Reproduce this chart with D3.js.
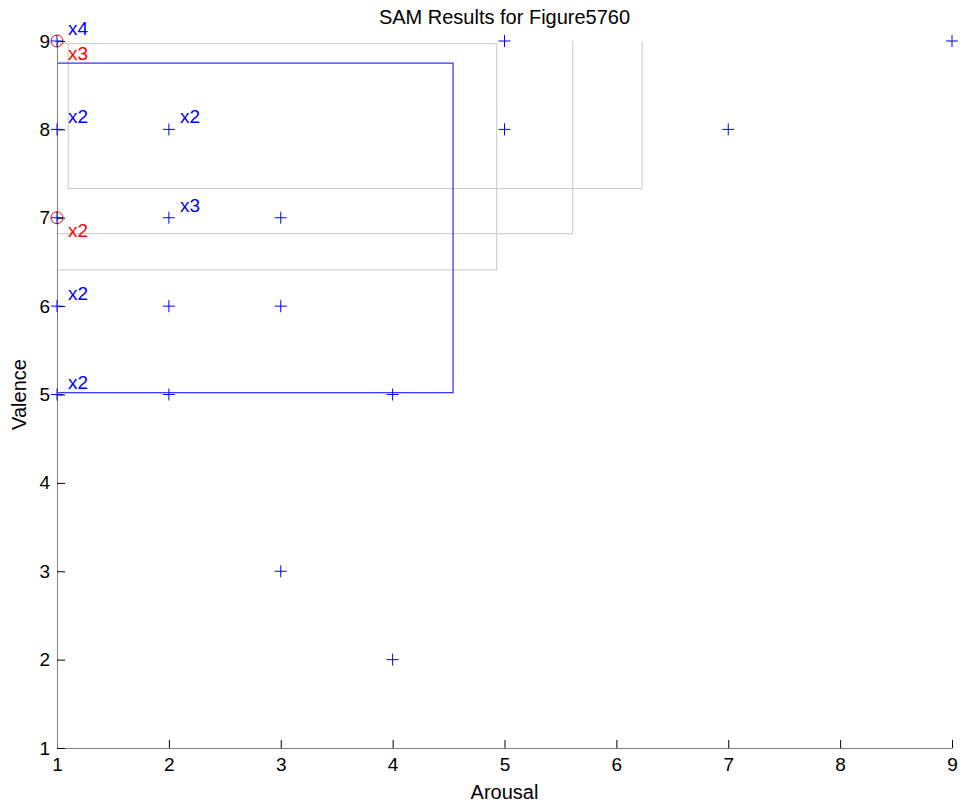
<!DOCTYPE html>
<html><head><meta charset="utf-8">
<script src="https://cdn.jsdelivr.net/npm/d3@7"></script>
<style>body{margin:0;background:#fff}svg{display:block}text{font-family:"Liberation Sans",Arial,sans-serif}</style>
</head><body>
<script>
// data
const xTicks = [1,2,3,4,5,6,7,8,9];
const yTicks = [1,2,3,4,5,6,7,8,9];
const blueX = [1,1,2,1,2,3,1,2,3,1,2,4,3,4,5,5,7,9];
const blueY = [9,8,8,7,7,7,6,6,6,5,5,5,3,2,9,8,8,9];
const blueCount = [4,2,2,1,3,1,2,1,1,2,1,1,1,1,1,1,1,1];
const redX = [1,1];
const redY = [9,7];
const redCount = [3,2];
// rectangles [x0, x1, y0, y1]
const grayRects = [[0.85,4.93,6.41,8.97],[0.85,5.61,6.82,9.3],[1.10,6.23,7.33,9.4]];
const blueRect = [0.85,4.54,5.02,8.75];

const W=960,H=807, L=57, R=952, T=41, B=748;
const svg=d3.select("body").append("svg").attr("width",W).attr("height",H);
const x=d3.scaleLinear().domain([1,9]).range([L,R]);
const y=d3.scaleLinear().domain([1,9]).range([B,T]);

svg.append("defs").append("clipPath").attr("id","clip")
  .append("rect").attr("x",L).attr("y",T).attr("width",R-L).attr("height",B-T);
const g=svg.append("g").attr("clip-path","url(#clip)");

g.selectAll("rect.gray").data(grayRects).join("rect").attr("class","gray")
  .attr("x",d=>x(d[0])).attr("y",d=>y(d[3])).attr("width",d=>x(d[1])-x(d[0])).attr("height",d=>y(d[2])-y(d[3]))
  .attr("fill","none").attr("stroke","#c8c8c8").attr("stroke-width",1);
g.append("rect").attr("x",x(blueRect[0])).attr("y",y(blueRect[3]))
  .attr("width",x(blueRect[1])-x(blueRect[0])).attr("height",y(blueRect[2])-y(blueRect[3]))
  .attr("fill","none").attr("stroke","#0000ff").attr("stroke-width",1);

// axes
const xAxis=d3.axisBottom(x).tickValues(xTicks).tickSizeInner(-8).tickSizeOuter(0).tickPadding(10);
const yAxis=d3.axisLeft(y).tickValues(yTicks).tickSizeInner(-8).tickSizeOuter(0).tickPadding(7);
const gx=svg.append("g").attr("transform",`translate(0,${B})`).call(xAxis);
const gy=svg.append("g").attr("transform",`translate(${L},0)`).call(yAxis);
[gx,gy].forEach(a=>{
  a.select(".domain").attr("stroke","#808080");
  a.selectAll(".tick line").attr("stroke","#000");
  a.selectAll(".tick text").attr("font-size",19).attr("fill","#000").attr("font-family","Liberation Sans, Arial, sans-serif");
});
gy.selectAll(".tick text").attr("x",-7);
gx.selectAll(".tick text").attr("y",10);

// points
const pts=blueX.map((v,i)=>({x:v,y:blueY[i],c:blueCount[i]}));
const rp=redX.map((v,i)=>({x:v,y:redY[i],c:redCount[i]}));
svg.selectAll("circle.red").data(rp).join("circle").attr("class","red")
  .attr("cx",d=>x(d.x)).attr("cy",d=>y(d.y)).attr("r",6).attr("fill","none").attr("stroke","#ff0000").attr("stroke-width",1);
const s=6;
svg.selectAll("path.plus").data(pts).join("path").attr("class","plus")
  .attr("d",d=>{const px=x(d.x),py=y(d.y);return `M${px-s},${py}H${px+s}M${px},${py-s}V${py+s}`;})
  .attr("stroke","#0000ff").attr("stroke-width",1).attr("fill","none");
svg.selectAll("text.bl").data(pts.filter(d=>d.c>1)).join("text").attr("class","bl")
  .attr("x",d=>x(d.x)+11).attr("y",d=>y(d.y)-6).attr("font-size",19).attr("fill","#0000ff").text(d=>"x"+d.c);
svg.selectAll("text.rl").data(rp.filter(d=>d.c>1)).join("text").attr("class","rl")
  .attr("x",d=>x(d.x)+11).attr("y",d=>y(d.y)+19).attr("font-size",19).attr("fill","#ff0000").text(d=>"x"+d.c);

// titles
svg.append("text").attr("x",(L+R)/2).attr("y",24).attr("text-anchor","middle").attr("font-size",20).text("SAM Results for Figure5760");
svg.append("text").attr("x",(L+R)/2).attr("y",799).attr("text-anchor","middle").attr("font-size",20).text("Arousal");
svg.append("text").attr("transform",`translate(26,${(T+B)/2}) rotate(-90)`).attr("text-anchor","middle").attr("font-size",20).text("Valence");
</script>
</body></html>
